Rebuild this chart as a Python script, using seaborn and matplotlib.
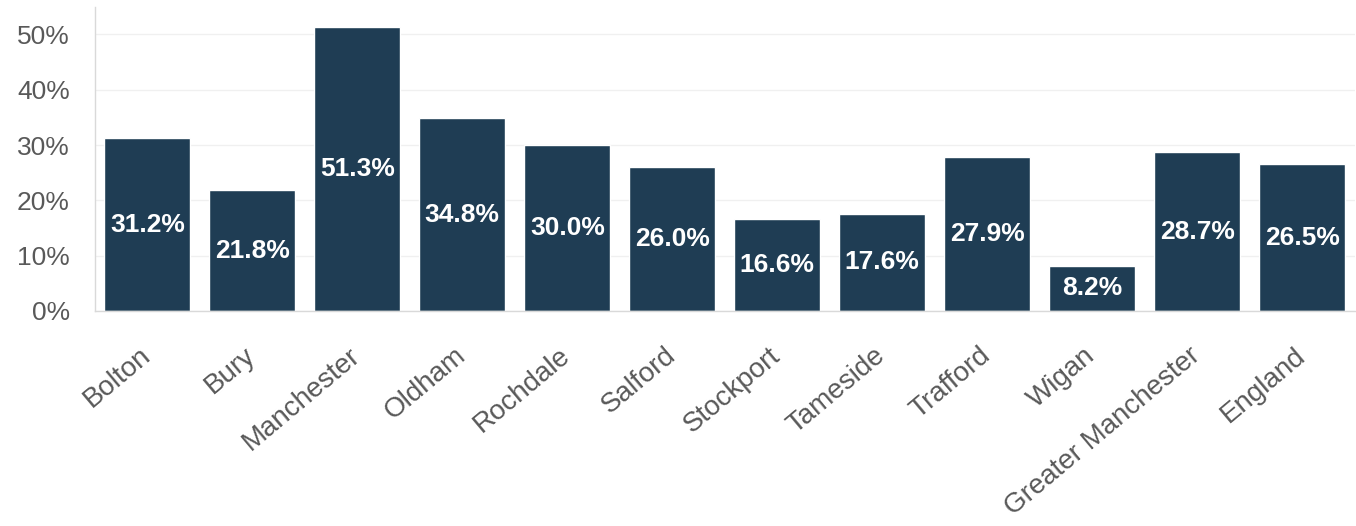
import matplotlib
matplotlib.use("Agg")
import matplotlib.pyplot as plt
import seaborn as sns
import pandas as pd
from matplotlib.ticker import FuncFormatter, MultipleLocator

areas = ["Bolton", "Bury", "Manchester", "Oldham", "Rochdale", "Salford",
         "Stockport", "Tameside", "Trafford", "Wigan", "Greater Manchester", "England"]
shares = [31.2, 21.8, 51.3, 34.8, 30.0, 26.0, 16.6, 17.6, 27.9, 8.2, 28.7, 26.5]

df = pd.DataFrame({"area": areas, "share": shares})

sns.set_theme(style="white")
plt.rcParams["font.family"] = ["Liberation Sans", "DejaVu Sans"]

fig = plt.figure(figsize=(13.56, 5.26), dpi=100)
ax = fig.add_axes([0.070, 0.409, 0.929, 0.578])

sns.barplot(data=df, x="area", y="share", color="#1f3d54", saturation=1,
            width=0.82, ax=ax)

ax.set_ylim(0, 55)
ax.set_xlim(-0.5, len(areas) - 0.5)
ax.yaxis.set_major_locator(MultipleLocator(10))
ax.yaxis.set_major_formatter(FuncFormatter(lambda v, _: f"{v:.0f}%"))
ax.grid(axis="y", color="#f0f0f0", linewidth=1)
ax.set_axisbelow(True)
ax.set_xlabel("")
ax.set_ylabel("")

for side in ["top", "right"]:
    ax.spines[side].set_visible(False)
for side in ["left", "bottom"]:
    ax.spines[side].set_color("#d9d9d9")
    ax.spines[side].set_linewidth(1)

ax.tick_params(axis="y", length=0, pad=18, labelsize=19, labelcolor="#595959")
ax.tick_params(axis="x", length=0, pad=30, labelsize=20, labelcolor="#595959")
plt.setp(ax.get_xticklabels(), rotation=40, ha="right", va="center",
         rotation_mode="anchor")

ax.bar_label(ax.containers[0], labels=[f"{v:.1f}%" for v in shares],
             label_type="center", color="white", fontweight="bold", fontsize=19)

fig.savefig("out.png", dpi=100, facecolor="white")
